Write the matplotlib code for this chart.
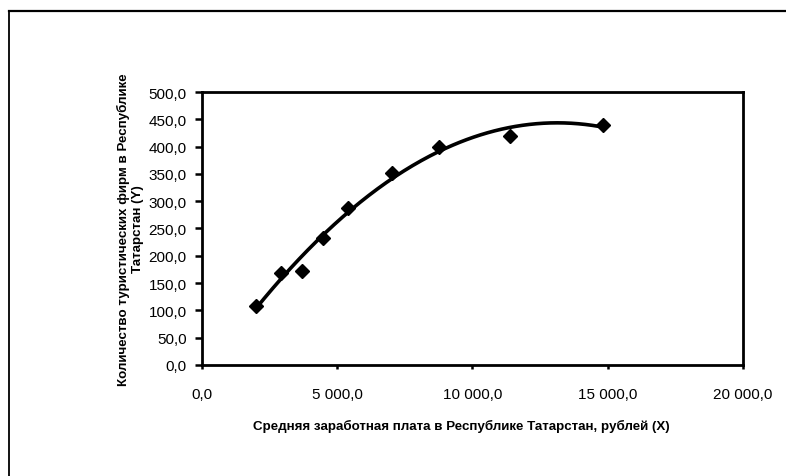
import numpy as np
import matplotlib.pyplot as plt
from matplotlib.ticker import FuncFormatter
from matplotlib.lines import Line2D

# average wage (X), rubles
salary = [1980, 2920, 3680, 4470, 5400, 7020, 8780, 11390, 14820]
# number of tourist firms (Y)
firms = [107.5, 168.0, 172.5, 233.0, 287.0, 351.0, 400.0, 420.0, 440.0]

x_ticks = [0, 5000, 10000, 15000, 20000]
y_ticks = list(range(0, 501, 50))

x_title = 'Средняя заработная плата в Республике Татарстан, рублей (X)'
y_title = 'Количество туристических фирм в Республике\nТатарстан (Y)'

plt.rcParams['font.family'] = ['Liberation Sans', 'DejaVu Sans']


def ru_fmt(v, pos):
	s = '{:,.1f}'.format(v)
	return s.replace(',', ' ').replace('.', ',')


fig = plt.figure(figsize=(7.86, 4.77), dpi=100)
ax = fig.add_axes([0.257, 0.233, 0.688, 0.572])

# polynomial trendline (2nd order), as in the original chart
coef = np.polyfit(salary, firms, 2)
xs = np.linspace(min(salary), max(salary), 200)
ax.plot(xs, np.polyval(coef, xs), color='black', lw=2.6, zorder=2)
ax.plot(salary, firms, 'D', color='black', ms=7, zorder=3)

ax.set_xlim(0, 20000)
ax.set_ylim(0, 500)
ax.set_xticks(x_ticks)
ax.set_yticks(y_ticks)
ax.xaxis.set_major_formatter(FuncFormatter(ru_fmt))
ax.yaxis.set_major_formatter(FuncFormatter(ru_fmt))
ax.tick_params(labelsize=11, width=1.8, direction='out')
ax.tick_params(axis='y', length=5, pad=6)
ax.tick_params(axis='x', length=3, pad=13)
for sp in ax.spines.values():
	sp.set_linewidth(2)

ax.set_xlabel(x_title, fontsize=9.6, fontweight='bold')
ax.set_ylabel(y_title, fontsize=9.6, fontweight='bold', linespacing=1.2)
ax.xaxis.set_label_coords(0.48, -0.198)
ax.yaxis.set_label_coords(-0.108, 0.5)

# outer chart frame (only top and left edges visible in the scan)
fig.add_artist(Line2D([0.0115, 1.0], [0.975, 0.975], color='black', lw=1.6, transform=fig.transFigure))
fig.add_artist(Line2D([0.0115, 0.0115], [0.0, 0.975], color='black', lw=1.3, transform=fig.transFigure))

fig.savefig('out.png', dpi=100)
